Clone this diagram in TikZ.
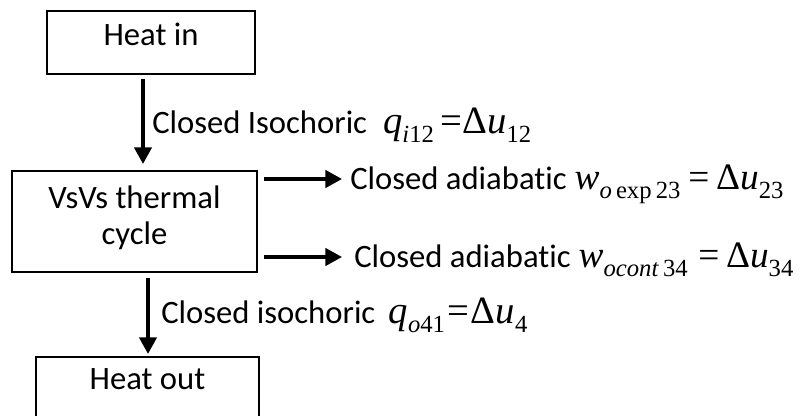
\documentclass[tikz,border=0pt]{standalone}
\usepackage{fontspec}
\setmainfont{Carlito}[Ligatures=NoCommon]
\newfontfamily\eqfont{Liberation Serif}
\usetikzlibrary{arrows.meta}

% equation pieces (Times-like, as in the original)
\newcommand{\eqsub}[1]{\raisebox{-0.25em}{\fontsize{18.5}{19}\selectfont #1}}
\newcommand{\eqbig}[1]{{\eqfont\fontsize{29}{29}\selectfont #1}}
\newcommand{\eqmid}[1]{{\eqfont\fontsize{28}{28}\selectfont #1}}

\begin{document}
\begin{tikzpicture}[x=0.75pt, y=-0.75pt,
    every node/.style={font=\fontsize{24.5}{27}\selectfont, inner sep=0pt},
    stage/.style={draw, line width=1.6pt, align=center},
    flow/.style={line width=2.6pt, -{Triangle[length=12.5pt, width=13pt]}},
    lbl/.style={anchor=base west}]
  \useasboundingbox (0,0) rectangle (808,415);
  \clip (0,0) rectangle (808,415);

  % boxes
  \node[stage, minimum width=156pt, minimum height=47.25pt,
        text height=16pt, text depth=12pt] (heatin) at (151,42.5) {Heat in};
  \node[stage, minimum width=183.75pt, minimum height=75.75pt] (cycle) at (134.5,221.5)
        {VsVs thermal\\cycle\rule[-9pt]{0pt}{9pt}};
  \node[stage, minimum width=167.25pt, minimum height=45pt,
        text height=16pt, text depth=12pt] (heatout) at (147.5,387) {Heat out};

  % arrow ends on the right
  \coordinate (exptip) at (342,179);
  \coordinate (comptip) at (342,257);

  % arrows
  \draw[flow, shorten <=3pt, shorten >=4.5pt] (heatin.south -| 143,0) -- (cycle.north -| 143,0);
  \draw[flow, shorten <=4.5pt] (cycle.east |- exptip) -- (exptip);
  \draw[flow, shorten <=4.5pt] (cycle.east |- comptip) -- (comptip);
  \draw[flow, shorten <=3.5pt, shorten >=1.5pt] (cycle.south -| 148,0) -- (heatout.north -| 148,0);

  % process labels
  \node[lbl] (isoin) at (152,133) {Closed Isochoric\hspace{12pt}%
    \eqbig{\textit{q}\eqsub{\textit{i}12}\hspace{5pt}=\hspace{0pt}Δ\textit{u}\eqsub{12}}};
  \node[lbl] (expand) at (350,189) {Closed adiabatic\hspace{6pt}%
    \eqmid{\textit{w}\eqsub{\textit{o}\,exp\,23}\hspace{6pt}=\hspace{5pt}Δ\textit{u}\eqsub{23}}};
  \node[lbl] (compress) at (354,267) {Closed adiabatic\hspace{6pt}%
    \eqmid{\textit{w}\eqsub{\textit{ocont}\,34}\hspace{8pt}=\hspace{5pt}Δ\textit{u}\eqsub{34}}};
  \node[lbl] (isoout) at (161,323) {Closed isochoric\hspace{10pt}%
    \eqbig{\textit{q}\eqsub{\textit{o}41}\hspace{2pt}=\hspace{1pt}Δ\textit{u}\eqsub{4}}};
\end{tikzpicture}
\end{document}
